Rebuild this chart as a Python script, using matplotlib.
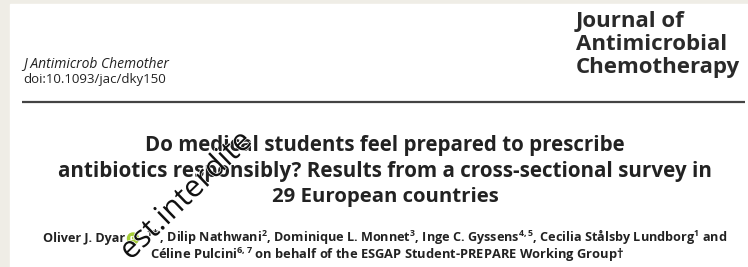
import matplotlib.pyplot as plt
import matplotlib.patheffects as pe
from matplotlib.patches import Rectangle, Circle

# Text content of the article header
journal_ref = ["J Antimicrob Chemother", "doi:10.1093/jac/dky150"]
journal_name = ["Journal of", "Antimicrobial", "Chemotherapy"]
title_lines = [
    "Do medical students feel prepared to prescribe",
    "antibiotics responsibly? Results from a cross-sectional survey in",
    "29 European countries",
]
first_author = "Oliver J. Dyar"
author_rest = ("$^{1*}$, Dilip Nathwani$^{2}$, Dominique L. Monnet$^{3}$, "
               "Inge C. Gyssens$^{4,5}$, Cecilia St\u00e5lsby Lundborg$^{1}$ and")
author_line2 = "C\u00e9line Pulcini$^{6,7}$ on behalf of the ESGAP Student-PREPARE Working Group\u2020"
watermark = "est.interdite"

plt.rcParams['font.family'] = ['Open Sans', 'DejaVu Sans']
plt.rcParams['mathtext.default'] = 'regular'

W, H = 748, 267
fig = plt.figure(figsize=(W / 100, H / 100), dpi=100)
fig.patch.set_facecolor('#efede6')
ax = fig.add_axes([0, 0, 1, 1])
ax.set_xlim(0, W)
ax.set_ylim(H, 0)
ax.axis('off')
r = fig.canvas.get_renderer()


def fit(t, width):
    # scale the font so the text spans the given pixel width
    w = t.get_window_extent(r).width
    t.set_fontsize(t.get_fontsize() * width / w)
    return t


# white page
ax.add_patch(Rectangle((10, 4), W - 10, H - 4, color='white', zorder=0))

ink = '#222222'

# journal reference, top left
fit(ax.text(23, 67, journal_ref[0], fontsize=8, style='italic', color=ink, va='baseline'), 145)
fit(ax.text(23, 83, journal_ref[1], fontsize=8, color=ink, va='baseline'), 144)

# journal name, top right
jn = [ax.text(576, 27 + i * 23, line, fontsize=14, fontweight='bold', color='#2a2a2a',
              va='baseline', ha='left') for i, line in enumerate(journal_name)]
fit(jn[2], 165)
for t in jn[:2]:
    t.set_fontsize(jn[2].get_fontsize())

# rule
ax.plot([22, 745], [101.5, 101.5], color='#444444', lw=1.6, solid_capstyle='butt')

# title
title_width = [475, 649, 226]
for i, line in enumerate(title_lines):
    fit(ax.text(385, 151 + i * 25.5, line, fontsize=13, fontweight='bold', color=ink,
                ha='center', va='baseline'), title_width[i])

# authors
t = fit(ax.text(146, 242, author_rest, fontsize=8, fontweight='bold', color=ink,
                ha='left', va='baseline'), 727 - 146)
size = t.get_fontsize()
ax.text(125, 242, first_author, fontsize=size, fontweight='bold', color=ink,
        ha='right', va='baseline')
fit(ax.text(387, 259, author_line2, fontsize=8, fontweight='bold', color=ink,
            ha='center', va='baseline'), 624 - 150)
ax.add_patch(Circle((133, 238.5), 5.5, color='#a6ce39', zorder=3))
ax.text(133, 238.5, "iD", fontsize=4, color='white', ha='center', va='center',
        fontweight='bold', zorder=3)

# watermark
wm = fit(ax.text(187, 196, watermark, fontsize=20, color='#111111',
                 ha='center', va='center', zorder=4), 170)
wm.set_rotation(44)
wm.set_rotation_mode('anchor')
wm.set_path_effects([pe.withStroke(linewidth=1, foreground='white')])

fig.savefig('out.png', dpi=100, facecolor=fig.get_facecolor())
